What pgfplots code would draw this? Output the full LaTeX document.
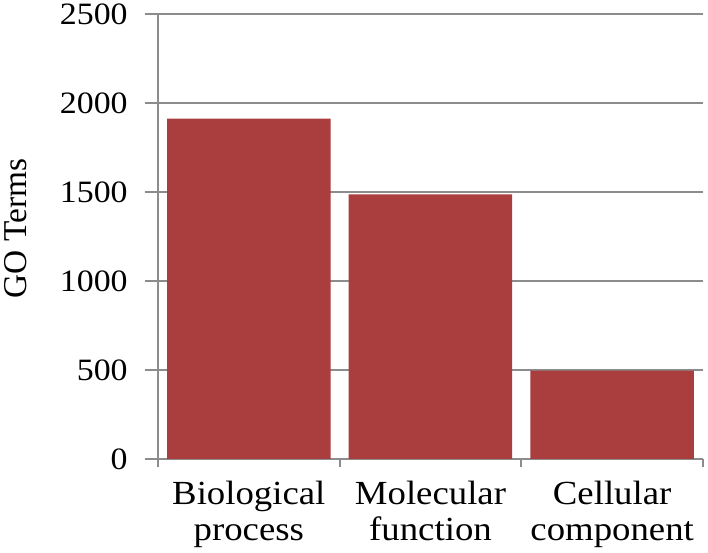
\documentclass[border=0pt]{standalone}
\usepackage{pgfplots}
\pgfplotsset{compat=1.18}
\usepackage{fontspec}
\setmainfont{Liberation Serif}
\newfontfamily\wide{Liberation Serif}[FakeStretch=1.09]
\definecolor{barred}{RGB}{170,61,61}
\definecolor{gridgray}{RGB}{140,140,140}
\begin{document}
\begin{tikzpicture}
\begin{axis}[
  scale only axis,
  width=408.75pt, height=333.75pt,
  ymin=0, ymax=2500, ytick={0,500,...,2500},
  xmin=-0.5, xmax=2.5,
  xtick={0,1,2},
  xticklabels={Biological\\process, Molecular\\function, Cellular\\component},
  minor xtick={-0.5,0.5,1.5,2.5},
  axis x line*=bottom, axis y line*=left,
  axis line style={gridgray, line width=1.5pt, -},
  ymajorgrids, grid style={gridgray, line width=1.5pt},
  tick align=outside,
  major tick length=9.75pt, minor tick length=6pt,
  major x tick style={draw=none},
  minor x tick style={gridgray, line width=1.5pt},
  ytick style={gridgray, line width=1.5pt},
  scaled ticks=false,
  /pgf/number format/assume math mode=true,
  /pgf/number format/1000 sep={},
  yticklabel style={font=\wide\fontsize{23.3}{25}\selectfont, xshift=-9.5pt},
  xticklabel style={font=\wide\fontsize{25.3}{27}\selectfont, align=center, yshift=-3pt},
  ylabel={GO Terms},
  ylabel style={font=\fontsize{25}{25}\selectfont, at={(axis description cs:-0.262,0.518)}, anchor=center},
  clip=false,
]
\addplot[ybar, bar width=0.9, fill=barred, draw=none] coordinates {(0,1912) (1,1487) (2,496)};
\end{axis}
\pgfresetboundingbox
\path (current axis.south west) ++(-118.5pt,-70.5pt) rectangle ++(531pt,414.75pt);
\end{tikzpicture}
\end{document}
